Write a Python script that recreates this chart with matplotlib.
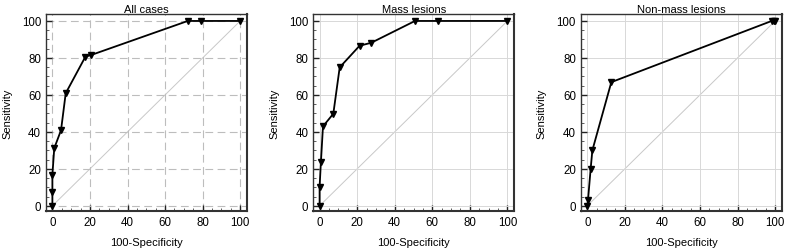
import matplotlib
matplotlib.use('Agg')
from matplotlib import pyplot as plt
from matplotlib.ticker import MultipleLocator

plt.rcParams['font.family'] = ['Liberation Sans', 'DejaVu Sans']
plt.rcParams['font.size'] = 8

# ROC points (100-Specificity, Sensitivity)
titles = ['All cases', 'Mass lesions', 'Non-mass lesions']

all_x = [0, 0, 0, 1, 4.6, 7.1, 17.6, 20.7, 72.1, 79.2, 100]
all_y = [0, 7.7, 16.8, 31.2, 40.9, 60.9, 80.7, 81.6, 100, 100, 100]

mass_x = [0, 0, 0.7, 1.8, 7.3, 10.7, 21.3, 27.5, 50.8, 63.2, 100]
mass_y = [0, 10.4, 23.8, 43, 49.8, 74.9, 86.6, 88.2, 100, 100, 100]

nonmass_x = [0, 0.4, 1.8, 2.7, 12.8, 98.2, 99.5, 100]
nonmass_y = [0, 3.4, 20.1, 30, 66.9, 100, 100, 100]

ticks = [0, 20, 40, 60, 80, 100]

fig = plt.figure(figsize=(7.85, 2.53), dpi=100)
lefts = [0.0586, 0.399, 0.740]
series = [(all_x, all_y), (mass_x, mass_y), (nonmass_x, nonmass_y)]

for i, (xs, ys) in enumerate(series):
    ax = fig.add_axes([lefts[i], 0.162, 0.256, 0.779])
    # reference diagonal
    ax.plot([0, 100], [0, 100], color='#c8c8c8', lw=0.7, zorder=1)
    ax.plot(xs, ys, color='black', lw=1.3, marker='v', ms=5,
            markerfacecolor='black', zorder=3)
    ax.set_xlim(-3.4, 103.6)
    ax.set_ylim(-2.8, 103.8)
    ax.set_xticks(ticks)
    ax.set_yticks(ticks)
    ax.xaxis.set_minor_locator(MultipleLocator(5))
    ax.yaxis.set_minor_locator(MultipleLocator(5))
    ax.tick_params(which='major', direction='in', length=4, width=1,
                   color='#222222', labelsize=8.3, pad=3.5)
    ax.tick_params(which='minor', direction='in', length=2, width=0.6,
                   color='#444444')
    if i == 0:
        ax.grid(True, which='major', color='#bdbdbd', lw=0.8,
                linestyle=(0, (7, 4)))
    else:
        ax.grid(True, which='major', color='#d8d8d8', lw=0.7)
    for s in ax.spines.values():
        s.set_color('#333333')
        s.set_linewidth(1.0)
    ax.spines['bottom'].set_linewidth(1.5)
    ax.spines['right'].set_linewidth(1.5)
    ax.set_title(titles[i], fontsize=8, pad=0.8)
    ax.set_xlabel('100-Specificity', fontsize=8, labelpad=6.5)
    ax.set_ylabel('Sensitivity', fontsize=8, labelpad=7)

fig.savefig('out.png', dpi=100)
